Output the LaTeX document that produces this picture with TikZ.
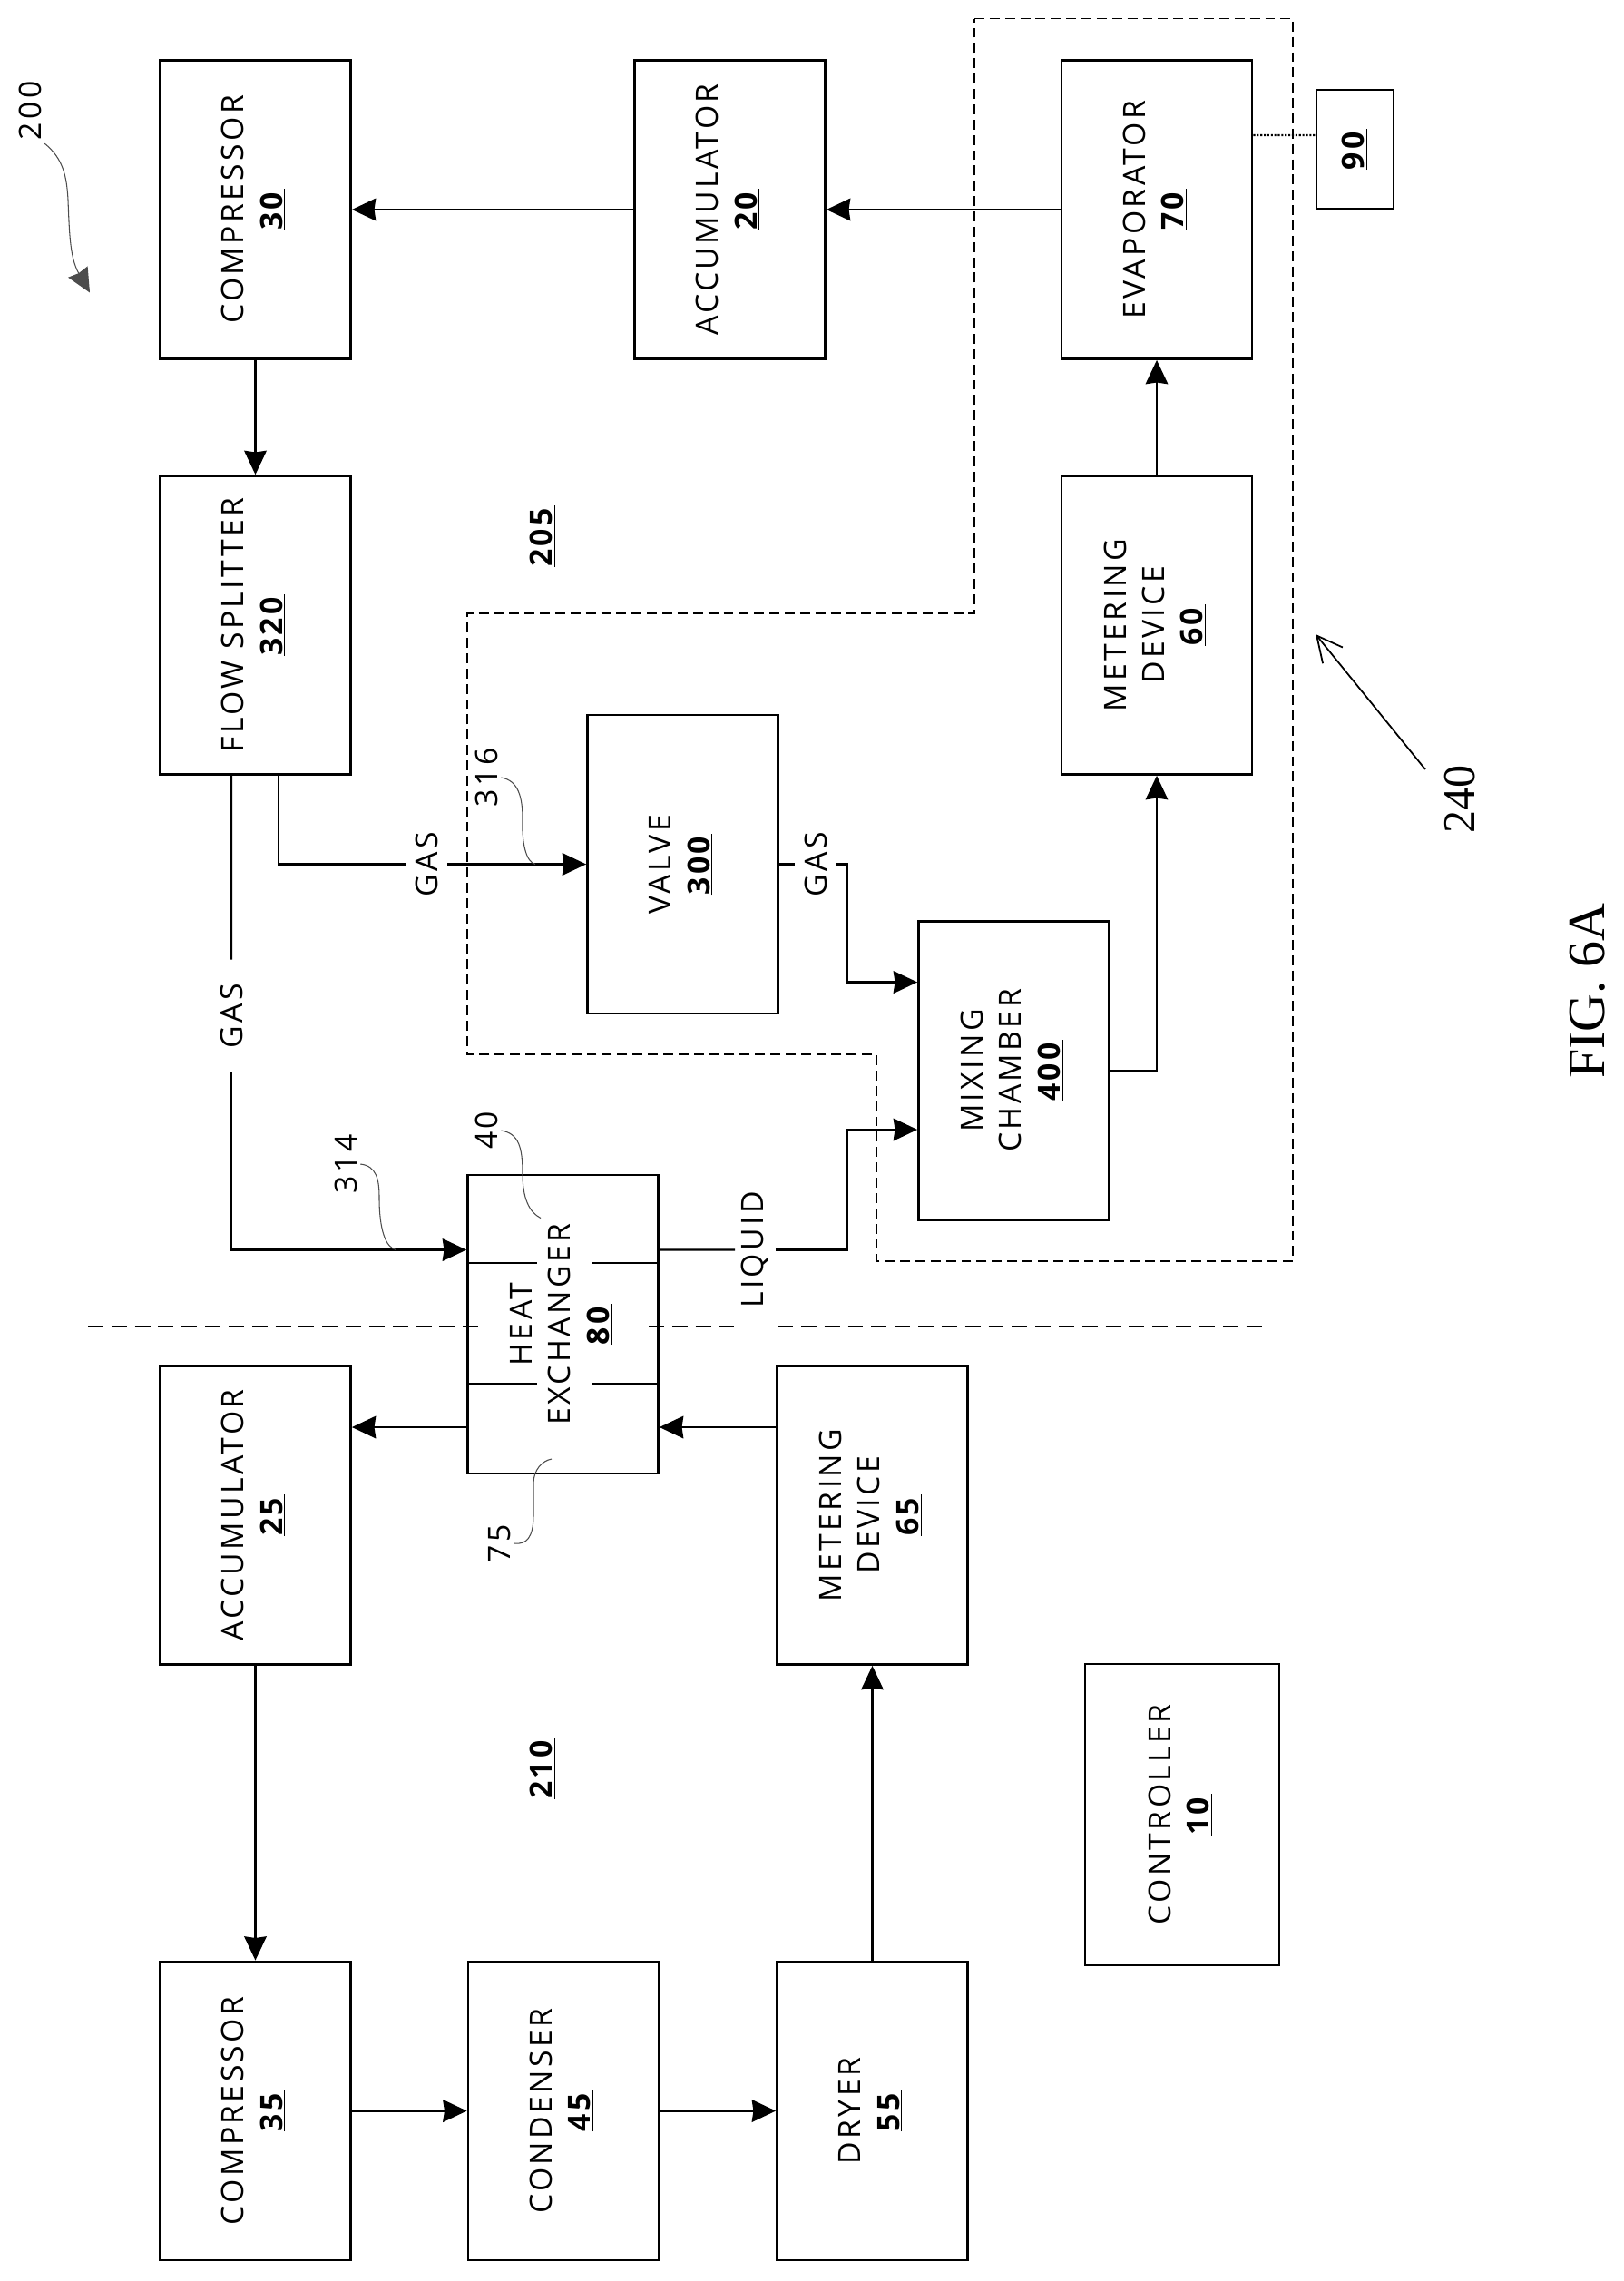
\documentclass[tikz,border=0pt]{standalone}
\usepackage{graphicx}
\usepackage{fontspec}
\setmainfont[LetterSpace=10]{Open Sans}
\newfontfamily\figfont{Liberation Serif}
\usetikzlibrary{arrows.meta}

\newcommand{\refnum}[1]{\underline{\textbf{#1}}}
\newcommand{\unitlabel}[2]{\rotatebox{90}{\begin{tabular}{@{}c@{}}#1\\\refnum{#2}\end{tabular}}}

\tikzset{
  unit/.style={draw, line width=1.6pt, minimum width=4.2cm, minimum height=6.58cm, inner sep=0pt},
  pipe/.style={->, line width=1.4pt},
  tube/.style={line width=1.4pt},
  tag/.style={rotate=90, inner sep=2pt},
  lead/.style={line width=0.6pt, black!70},
  zone/.style={line width=1pt, dash pattern=on 6.2pt off 3.4pt},
  divide/.style={line width=1.2pt, dash pattern=on 9.6pt off 5.1pt},
}

\begin{document}
\begin{tikzpicture}[>={Stealth[length=15pt,width=14pt,inset=1pt]},node distance=9.16cm,
                    font=\fontsize{19.2}{24}\selectfont]
                  \useasboundingbox (0,0) rectangle (35.8,-50.28);

                  % upper circuit
                  \node[unit]  (30)  at (5.63,-4.62)                  {\unitlabel{COMPRESSOR}{30}};
                  \node[unit]  (20)  [right of=30,node distance=10.46cm] {\unitlabel{ACCUMULATOR}{20}};
                  \node[unit]  (70)  [right of=20,node distance=9.41cm]  {\unitlabel{EVAPORATOR}{70}};
                  \node[unit]  (320) [below of=30]                    {\unitlabel{FLOW SPLITTER}{320}};
                  \node[unit]  (60)  [below of=70]                    {\unitlabel{METERING\\DEVICE}{60}};
                  \node[unit]  (300) at (15.05,-19.05)                {\unitlabel{VALVE}{300}};
                  \node[unit]  (400) at (22.35,-23.6)                 {\unitlabel{MIXING\\CHAMBER}{400}};
                  \node[unit]  (80)  at (12.41,-29.19)                {\unitlabel{HEAT\\EXCHANGER}{80}};
                  \node[unit, line width=1.2pt, minimum width=1.69cm, minimum height=2.61cm] (90) at (29.87,-3.29) {\rotatebox{90}{\refnum{90}}};

                  % lower circuit
                  \node[unit]  (25)  [below of=320,node distance=19.62cm] {\unitlabel{ACCUMULATOR}{25}};
                  \node[unit]  (35)  [below of=25,node distance=13.13cm]  {\unitlabel{COMPRESSOR}{35}};
                  \node[unit]  (45)  [right of=35,node distance=6.79cm]   {\unitlabel{CONDENSER}{45}};
                  \node[unit]  (55)  [right of=45,node distance=6.81cm]   {\unitlabel{DRYER}{55}};
                  \node[unit]  (65)  [above of=55,node distance=13.13cm]  {\unitlabel{METERING\\DEVICE}{65}};
                  \node[unit, line width=1.2pt, minimum width=4.28cm, minimum height=6.64cm] (10) at (26.06,-40) {\unitlabel{CONTROLLER}{10}};

                  % words on the lines
                  \node[tag, inner xsep=15pt] (gas1)   at (5.10,-22.4)   {GAS};
                  \node[tag, inner ysep=6pt]  (gas2)   at (9.40,-19.05)  {GAS};
                  \node[tag, inner ysep=6pt]  (gas3)   at (17.98,-19.05) {GAS};
                  \node[tag, inner ysep=4pt]  (liquid) at (16.65,-27.55) {LIQUID};

                  % reference numbers
                  \node[tag] (n200) at (0.66,-2.44)   {200};
                  \node[tag] (n316) at (10.72,-17.14) {316};
                  \node[tag] (n314) at (7.62,-25.66)  {314};
                  \node[tag] (n40)  at (10.72,-24.92) {40};
                  \node[tag] (n75)  at (11.02,-34.02) {75};
                  \node[tag] (n205) at (11.96,-11.82) {\refnum{205}};
                  \node[tag] (n210) at (11.96,-38.98) {\refnum{210}};
                  \node[tag, font=\figfont\fontsize{28.5}{30}\selectfont] (n240) at (32.18,-17.62) {240};
                  \node[tag, font=\figfont\fontsize{33}{36}\selectfont]   (fig)  at (35.0,-21.84)  {FIG. 6A};

                  \coordinate (jog1) at (18.67,-21.65);
                  \coordinate (jog2) at (18.67,-24.9);
                  \coordinate (d1) at (1.94,-29.24);
                  \coordinate (d2) at (10.64,-29.24);
                  \coordinate (d3) at (14.3,-29.24);
                  \coordinate (d4) at (16.2,-29.24);
                  \coordinate (d5) at (17.14,-29.24);
                  \coordinate (d6) at (27.92,-29.24);

                  \draw[pipe] (20) -- (30);
                  \draw[pipe] (70) -- (20);
                  \draw[pipe, line width=1.2pt] (30) -- (320);
                  \draw[pipe, line width=1.2pt] (60) -- (70);
                  \draw[pipe, line width=1.2pt] (400.east) -| (60.south);
                  \draw[tube] ([xshift=.506cm]320.south) |- (gas2);
                  \draw[pipe] (gas2) -- (300);
                  \draw[tube] (300) -- (gas3);
                  \draw[pipe] (gas3) -| (jog1) -- (400.west |- jog1);
                  \draw[tube] ([xshift=-.534cm]320.south) -- (gas1);
                  \draw[pipe] (gas1) |- ([yshift=1.64cm]80.west);
                  \draw[tube] ([yshift=1.64cm]80.east) -- (liquid);
                  \draw[pipe] (liquid) -| (jog2) -- (400.west |- jog2);
                  \draw[pipe] ([yshift=-2.27cm]80.west) -- ([yshift=-2.27cm]80.west -| 25.east);
                  \draw[pipe] ([yshift=-2.27cm]80.west -| 65.west) -- ([yshift=-2.27cm]80.east);
                  \draw[pipe, line width=1.2pt] (25) -- (35);
                  \draw[pipe] (35) -- (45);
                  \draw[pipe] (45) -- (55);
                  \draw[pipe, line width=1.2pt] (55) -- (65);
                  \draw[line width=1.2pt, densely dotted] ([yshift=1.64cm]70.east) -- (90.west |- 0,-2.98);

                  % heat exchanger partitions
                  \draw[line width=1.4pt] ([yshift=1.35cm]80.west) -- ++(1.56,0);
                  \draw[line width=1.4pt] ([yshift=1.35cm]80.east) -- ++(-1.49,0);
                  \draw[line width=1.4pt] ([yshift=-1.31cm]80.west) -- ++(1.56,0);
                  \draw[line width=1.4pt] ([yshift=-1.31cm]80.east) -- ++(-1.49,0);

                  % dashed boundaries
                  \draw[zone] (21.48,-0.41) -- (28.5,-0.41) -- (28.5,-27.8) -- (19.32,-27.8) -- (19.32,-23.24)
                              -- (10.3,-23.24) -- (10.3,-13.52) -- (21.48,-13.52) -- cycle;
                  \draw[divide] (d1) -- (d2);
                  \draw[divide] (d3) -- (d4);
                  \draw[divide] (d5) -- (d6);

                  % leaders
                  \coordinate (c200) at (1.98,-6.45);
                  \coordinate (c316) at (11.8,-19.05);
                  \coordinate (c314) at (8.73,-27.55);
                  \coordinate (c40)  at (11.92,-26.85);
                  \coordinate (c75)  at (12.16,-32.16);
                  \coordinate (c240) at (29.0,-13.98);
                  \coordinate (s240) at (31.42,-16.96);
                  \draw[lead, ->] (n200.south west) .. controls (1.4,-3.5) and (1.47,-3.9) .. (1.5,-4.4)
                                  .. controls (1.53,-5.2) and (1.55,-5.7) .. (c200);
                  \draw[lead] (n316.south) .. controls (11.44,-17.2) and (11.52,-17.6) .. (11.52,-18.06)
                              .. controls (11.5,-18.6) and (11.6,-19) .. (c316);
                  \draw[lead] (n314.south) .. controls (8.3,-25.7) and (8.36,-26) .. (8.36,-26.4)
                              .. controls (8.36,-27.1) and (8.5,-27.5) .. (c314);
                  \draw[lead] (n40.south) .. controls (11.44,-24.98) and (11.52,-25.3) .. (11.52,-25.88)
                              .. controls (11.52,-26.4) and (11.66,-26.72) .. (c40);
                  \draw[lead] (n75.south) .. controls (11.6,-34.05) and (11.76,-33.9) .. (11.76,-33.4)
                              -- (11.76,-32.7) .. controls (11.76,-32.4) and (11.95,-32.2) .. (c75);
                  \draw[line width=1pt, -{Straight Barb[length=16pt,width=16pt]}] (s240) -- (c240);
\end{tikzpicture}
\end{document}
